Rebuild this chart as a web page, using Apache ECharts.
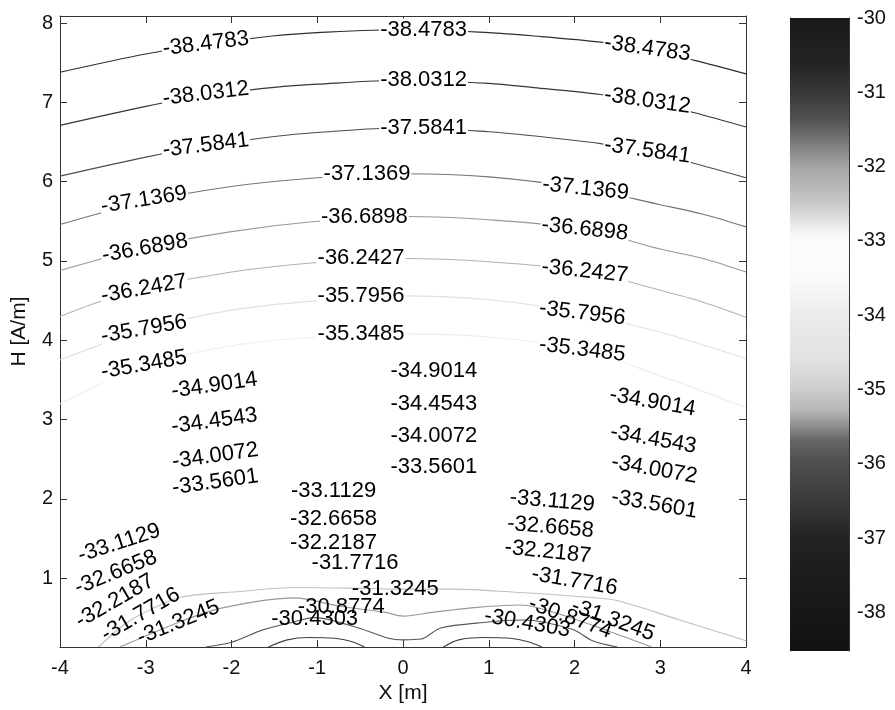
<!DOCTYPE html>
<html>
<head>
<meta charset="utf-8">
<script src="https://cdn.jsdelivr.net/npm/echarts@6/dist/echarts.min.js"></script>
<style>
html, body { margin: 0; padding: 0; background: #fff; }
#chart { width: 895px; height: 710px; }
</style>
</head>
<body>
<div id="chart"></div>
<script>
// axis ticks
var xTicks = [-4, -3, -2, -1, 0, 1, 2, 3, 4];
var yTicks = [1, 2, 3, 4, 5, 6, 7, 8];
var barTicks = [-38, -37, -36, -35, -34, -33, -32, -31, -30];
var yRange = [0.13, 8.09];
var barRange = [-38.52, -30];

// contour lines, [x, y]
var c38_4783 = [[-4,7.38],[-3,7.61],[-2.3,7.73],[-1.5,7.84],[-1,7.88],[0,7.92],[1,7.88],[1.5,7.84],[2.3,7.76],[2.85,7.67],[3.4,7.53],[4,7.36]];
var c38_0312 = [[-4,6.71],[-3,6.95],[-2.3,7.09],[-1.5,7.19],[-1,7.23],[0,7.28],[1,7.24],[1.5,7.19],[2.3,7.1],[2.85,7.01],[3.4,6.87],[4,6.69]];
var c37_5841 = [[-4,6.07],[-3,6.31],[-2.3,6.45],[-1.5,6.57],[-1,6.62],[0,6.68],[1,6.63],[1.5,6.58],[2.3,6.48],[2.85,6.38],[3.4,6.23],[4,6.05]];
var c37_1369 = [[-4,5.46],[-3,5.75],[-2,5.94],[-1,6.05],[0,6.1],[1,6.06],[2.13,5.91],[3,5.71],[3.5,5.59],[4,5.43]];
var c36_6898 = [[-4,4.88],[-3,5.17],[-2,5.37],[-1,5.5],[0,5.56],[1,5.52],[2.12,5.4],[3,5.15],[3.5,5.03],[4,4.86]];
var c36_2427 = [[-4,4.3],[-3.5,4.5],[-3,4.66],[-2,4.86],[-1,4.98],[0,5.03],[1,4.99],[2.12,4.87],[3,4.63],[3.5,4.48],[4,4.29]];
var c35_7956 = [[-4,3.75],[-3,4.14],[-2,4.38],[-1,4.5],[0,4.56],[1,4.51],[2.09,4.34],[3,4.1],[3.5,3.94],[4,3.77]];
var c35_3485 = [[-4,3.2],[-3,3.68],[-2,3.93],[-1,4.04],[0,4.08],[1,4.04],[2.09,3.88],[3,3.55],[4,3.15]];
var c31_7716 = [[-3.55,0.13],[-3.3,0.37],[-3.06,0.54],[-2.58,0.76],[-1.9,0.83],[-1.27,0.88],[-0.5,0.87],[0,0.86],[0.6,0.86],[1.31,0.82],[2,0.77],[2.48,0.72],[3.2,0.48],[4,0.21]];
var c31_3245 = [[-3.3,0.13],[-2.62,0.44],[-2.12,0.62],[-1.27,0.75],[-0.72,0.64],[-0.22,0.57],[0,0.52],[0.36,0.57],[0.87,0.63],[1.37,0.66],[1.95,0.5],[2.4,0.33],[2.9,0.13]];
var c30_4303 = [[-2.3,0.13],[-2,0.19],[-1.65,0.34],[-1.3,0.44],[-1.03,0.5],[-0.52,0.37],[-0.17,0.24],[0,0.22],[0.21,0.23],[0.44,0.37],[0.94,0.44],[1.41,0.47],[1.98,0.35],[2.21,0.21],[2.5,0.13]];
var c29_9832a = [[-1.57,0.13],[-1.35,0.22],[-1.1,0.25],[-0.8,0.24],[-0.6,0.2],[-0.45,0.13]];
var c29_9832b = [[0.47,0.13],[0.65,0.22],[0.95,0.25],[1.25,0.24],[1.45,0.2],[1.62,0.13]];

var contours = [
  { level: -38.4783, pts: c38_4783 },
  { level: -38.0312, pts: c38_0312 },
  { level: -37.5841, pts: c37_5841 },
  { level: -37.1369, pts: c37_1369 },
  { level: -36.6898, pts: c36_6898 },
  { level: -36.2427, pts: c36_2427 },
  { level: -35.7956, pts: c35_7956 },
  { level: -35.3485, pts: c35_3485 },
  { level: -31.7716, pts: c31_7716 },
  { level: -31.3245, pts: c31_3245 },
  { level: -30.4303, pts: c30_4303 },
  { level: -29.9832, pts: c29_9832a },
  { level: -29.9832, pts: c29_9832b }
];

// contour labels [x, y, level]
var labels = [
  [-2.30,7.74,-38.4783],[0.24,7.92,-38.4783],[2.85,7.68,-38.4783],
  [-2.30,7.11,-38.0312],[0.24,7.28,-38.0312],[2.85,7.02,-38.0312],
  [-2.30,6.46,-37.5841],[0.24,6.68,-37.5841],[2.85,6.39,-37.5841],
  [-3.02,5.77,-37.1369],[-0.42,6.10,-37.1369],[2.13,5.91,-37.1369],
  [-3.01,5.16,-36.6898],[-0.45,5.56,-36.6898],[2.12,5.40,-36.6898],
  [-3.02,4.65,-36.2427],[-0.49,5.04,-36.2427],[2.12,4.87,-36.2427],
  [-3.02,4.14,-35.7956],[-0.49,4.56,-35.7956],[2.09,4.34,-35.7956],
  [-3.02,3.69,-35.3485],[-0.49,4.08,-35.3485],[2.09,3.88,-35.3485],
  [-2.20,3.43,-34.9014],[0.36,3.61,-34.9014],[2.91,3.22,-34.9014],
  [-2.20,2.98,-34.4543],[0.36,3.19,-34.4543],[2.92,2.75,-34.4543],
  [-2.19,2.54,-34.0072],[0.36,2.79,-34.0072],[2.93,2.37,-34.0072],
  [-2.19,2.21,-33.5601],[0.36,2.40,-33.5601],[2.93,1.93,-33.5601],
  [-3.31,1.44,-33.1129],[-0.81,2.10,-33.1129],[1.74,1.97,-33.1129],
  [-3.35,1.07,-32.6658],[-0.81,1.74,-32.6658],[1.72,1.64,-32.6658],
  [-3.36,0.71,-32.2187],[-0.81,1.44,-32.2187],[1.69,1.33,-32.2187],
  [-3.06,0.54,-31.7716],[-0.56,1.19,-31.7716],[2.00,0.96,-31.7716],
  [-2.62,0.44,-31.3245],[-0.09,0.86,-31.3245],[2.45,0.47,-31.3245],
  [-0.72,0.64,-30.8774],[1.95,0.50,-30.8774],
  [-1.03,0.49,-30.4303],[1.45,0.43,-30.4303]
];
// text rotation of each label, degrees
var labelAngles = [
  7,0,-8, 7,0,-8, 7,0,-8,
  9,0,-6, 10,0,-6, 10,0,-6, 10,0,-7, 10,0,-7,
  8,0,-10, 8,0,-10, 8,0,-10, 8,0,-10,
  18,0,-5, 22,0,-5, 30,0,-6, 30,0,-10, 22,0,-20,
  0,-20, 0,-10
];

var FONT = '"Liberation Sans", Arial, Helvetica, sans-serif';

// grey tone of the colour bar, top (-30) to bottom
var barStops = [[-30,25],[-30.6,35],[-31,55],[-31.4,85],[-31.7,125],[-32,165],[-32.5,200],[-32.8,235],[-33,252],
  [-33.5,250],[-34,236],[-34.6,225],[-35,205],[-35.3,180],[-35.5,140],[-35.7,100],[-36,78],[-36.5,58],[-37,35],[-37.5,28],[-38.52,18]];
// grey tone of the thin contour lines as they come out in print
var lineStops = [[-29.9,60],[-30.4,85],[-30.9,120],[-31.3,150],[-31.8,195],[-32.5,250],[-34,250],[-35.3,238],
  [-35.8,225],[-36.2,180],[-36.7,150],[-37.1,120],[-37.6,75],[-38,55],[-38.5,45]];

function grey(stops, v) {
  var s = stops.slice().sort(function(a, b) { return a[0] - b[0]; });
  var g = s[0][1];
  if (v >= s[s.length - 1][0]) g = s[s.length - 1][1];
  for (var i = 0; i < s.length - 1; i++) {
    if (v >= s[i][0] && v <= s[i + 1][0]) {
      var t = (v - s[i][0]) / (s[i + 1][0] - s[i][0]);
      g = s[i][1] + t * (s[i + 1][1] - s[i][1]);
      break;
    }
  }
  g = Math.round(g);
  return 'rgb(' + g + ',' + g + ',' + g + ')';
}

var series = [];
contours.forEach(function(c) {
  series.push({
    type: 'line',
    xAxisIndex: 0,
    yAxisIndex: 0,
    data: c.pts,
    smooth: 0.3,
    symbol: 'none',
    silent: true,
    z: 2,
    lineStyle: { color: grey(lineStops, c.level), width: 1.1 }
  });
});

series.push({
  type: 'scatter',
  xAxisIndex: 0,
  yAxisIndex: 0,
  symbolSize: 0,
  silent: true,
  z: 5,
  itemStyle: { opacity: 1 },
  data: labels.map(function(l, i) {
    var withGap = l[2] <= -35;
    return {
      value: l,
      label: {
        rotate: labelAngles[i],
        backgroundColor: withGap ? '#fff' : 'transparent',
        padding: withGap ? [0, 1] : 0
      }
    };
  }),
  label: {
    show: true,
    position: 'inside',
    formatter: function(p) { return p.value[2].toFixed(4); },
    color: '#000',
    fontSize: 22,
    fontFamily: FONT
  }
});

// colour bar
var gradStops = barStops.map(function(s) {
  return { offset: (barRange[1] - s[0]) / (barRange[1] - barRange[0]), color: grey(barStops, s[0]) };
});
series.push({
  type: 'custom',
  xAxisIndex: 2,
  yAxisIndex: 2,
  silent: true,
  data: [[0, barRange[0], barRange[1]]],
  encode: { x: 0, y: [1, 2] },
  renderItem: function(params, api) {
    var a = api.coord([0, api.value(2)]);
    var b = api.coord([1, api.value(1)]);
    return {
      type: 'rect',
      shape: { x: a[0], y: a[1], width: b[0] - a[0], height: b[1] - a[1] },
      style: { fill: new echarts.graphic.LinearGradient(0, 0, 0, 1, gradStops) }
    };
  }
});

var axisLine = { show: true, onZero: false, lineStyle: { color: '#333', width: 1 } };
var tickLbl = { color: '#111', fontSize: 20, fontFamily: FONT };

var option = {
  backgroundColor: '#fff',
  animation: false,
  grid: [
    { left: 60, right: 149, top: 16, bottom: 63 },
    { left: 790, right: 46, top: 18, bottom: 59 }
  ],
  xAxis: [
    { type: 'value', gridIndex: 0, min: -4, max: 4, interval: 1, position: 'bottom',
      name: 'X [m]', nameLocation: 'middle', nameGap: 33,
      nameTextStyle: { color: '#111', fontSize: 21, fontFamily: FONT },
      axisLine: axisLine, splitLine: { show: false },
      axisTick: { inside: true, length: 7, lineStyle: { color: '#333' } },
      axisLabel: Object.assign({ margin: 11, formatter: function(v) { return xTicks.indexOf(v) >= 0 ? String(v) : ''; } }, tickLbl) },
    { type: 'value', gridIndex: 0, min: -4, max: 4, interval: 1, position: 'top',
      axisLine: axisLine, splitLine: { show: false },
      axisTick: { inside: true, length: 7, lineStyle: { color: '#333' } },
      axisLabel: { show: false } },
    { type: 'value', gridIndex: 1, min: 0, max: 1, show: false }
  ],
  yAxis: [
    { type: 'value', gridIndex: 0, min: yRange[0], max: yRange[1], position: 'left',
      name: 'H [A/m]', nameLocation: 'middle', nameGap: 30, nameRotate: 90,
      nameTextStyle: { color: '#111', fontSize: 21, fontFamily: FONT },
      axisLine: axisLine, splitLine: { show: false },
      axisTick: { inside: true, length: 7, customValues: yTicks, lineStyle: { color: '#333' } },
      axisLabel: Object.assign({ margin: 7, customValues: yTicks }, tickLbl) },
    { type: 'value', gridIndex: 0, min: yRange[0], max: yRange[1], position: 'right',
      axisLine: axisLine, splitLine: { show: false },
      axisTick: { inside: true, length: 7, customValues: yTicks, lineStyle: { color: '#333' } },
      axisLabel: { show: false } },
    { type: 'value', gridIndex: 1, min: barRange[0], max: barRange[1], position: 'right',
      axisLine: axisLine, splitLine: { show: false },
      axisTick: { inside: true, length: 5, customValues: barTicks, lineStyle: { color: '#333' } },
      axisLabel: Object.assign({ margin: 8, customValues: barTicks }, tickLbl) },
    { type: 'value', gridIndex: 1, min: barRange[0], max: barRange[1], position: 'left',
      axisLine: axisLine, splitLine: { show: false },
      axisTick: { inside: true, length: 5, customValues: barTicks, lineStyle: { color: '#333' } },
      axisLabel: { show: false } }
  ],
  series: series
};

var chart = echarts.init(document.getElementById('chart'));
chart.setOption(option);
</script>
</body>
</html>
